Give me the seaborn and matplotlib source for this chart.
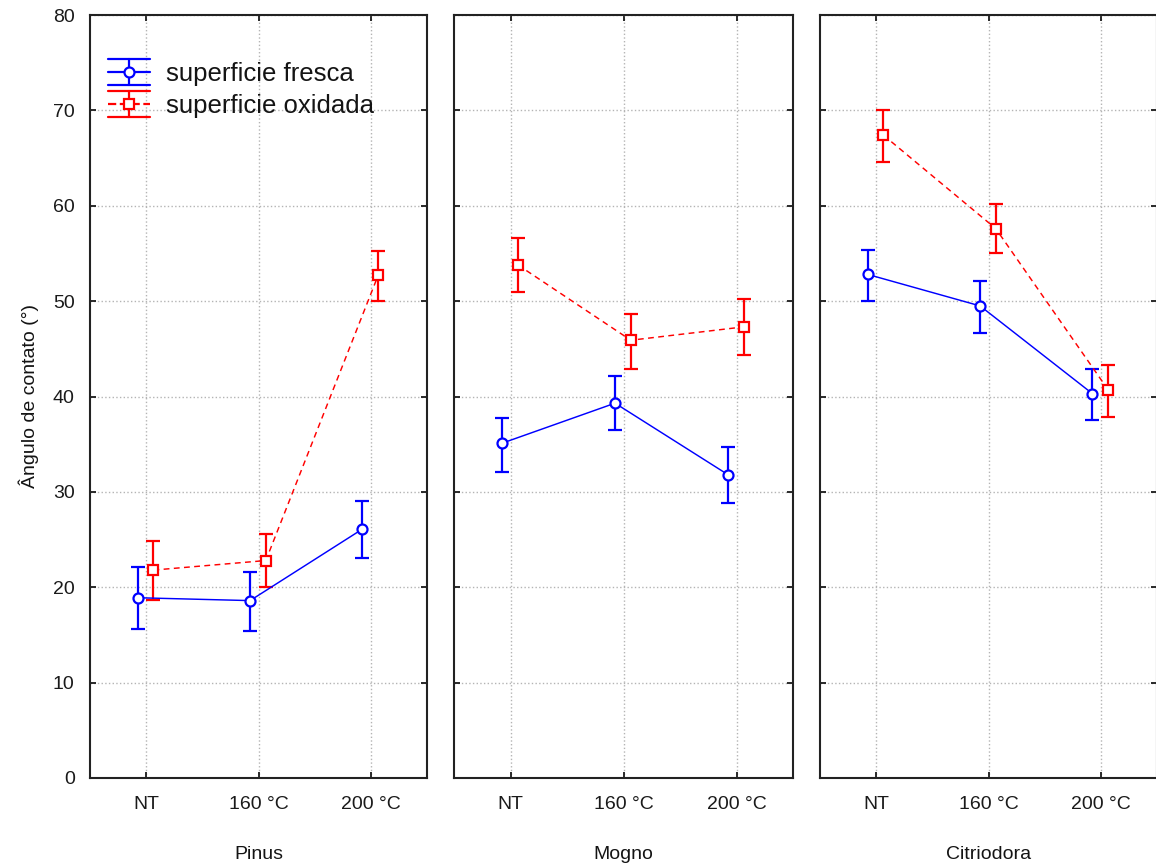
import numpy as np
import pandas as pd
import matplotlib
matplotlib.use("Agg")
import matplotlib.pyplot as plt
import seaborn as sns
from matplotlib.legend_handler import HandlerBase
from matplotlib.lines import Line2D

# ---------------- data ----------------
species = ["Pinus", "Mogno", "Citriodora"]
treatments = ["NT", "160 °C", "200 °C"]
series = ["superficie fresca", "superficie oxidada"]

# superficie fresca : mean, lower and upper limit, per species (NT, 160, 200)
fresca_mean = {"Pinus": [18.9, 18.6, 26.1], "Mogno": [35.1, 39.3, 31.8], "Citriodora": [52.8, 49.5, 40.3]}
fresca_low = {"Pinus": [15.6, 15.4, 23.1], "Mogno": [32.1, 36.5, 28.8], "Citriodora": [50.0, 46.7, 37.5]}
fresca_high = {"Pinus": [22.1, 21.6, 29.0], "Mogno": [37.7, 42.1, 34.7], "Citriodora": [55.4, 52.1, 42.9]}

# superficie oxidada
oxidada_mean = {"Pinus": [21.8, 22.8, 52.7], "Mogno": [53.8, 45.9, 47.3], "Citriodora": [67.4, 57.6, 40.7]}
oxidada_low = {"Pinus": [18.7, 20.0, 50.0], "Mogno": [51.0, 42.9, 44.3], "Citriodora": [64.6, 55.0, 37.9]}
oxidada_high = {"Pinus": [24.8, 25.6, 55.3], "Mogno": [56.6, 48.7, 50.2], "Citriodora": [70.0, 60.2, 43.3]}

y_ticks = [0, 10, 20, 30, 40, 50, 60, 70, 80]

# ---------------- styling ----------------
sns.set_theme(style="ticks")
plt.rcParams["font.family"] = ["Liberation Sans", "DejaVu Sans"]
plt.rcParams["text.color"] = "#141414"
plt.rcParams["axes.labelcolor"] = "#141414"
plt.rcParams["xtick.color"] = "#1a1a1a"
plt.rcParams["ytick.color"] = "#1a1a1a"

colors = {"superficie fresca": "#0000ff", "superficie oxidada": "#ff0000"}
markers = {"superficie fresca": "o", "superficie oxidada": "s"}
dashes = {"superficie fresca": "", "superficie oxidada": (4, 3)}
msizes = {"superficie fresca": 7.2, "superficie oxidada": 7.8}
dodge = {"superficie fresca": -0.075, "superficie oxidada": 0.065}

rows = []
for sp in species:
    for ser, m, lo, hi in [
        ("superficie fresca", fresca_mean, fresca_low, fresca_high),
        ("superficie oxidada", oxidada_mean, oxidada_low, oxidada_high),
    ]:
        for j, tr in enumerate(treatments):
            rows.append(dict(species=sp, serie=ser, treatment=tr, idx=j,
                             mean=m[sp][j], low=lo[sp][j], high=hi[sp][j]))
df = pd.DataFrame(rows)
df["pos"] = df["idx"] + df["serie"].map(dodge)

W, H = 1156, 864
fig = plt.figure(figsize=(W / 100, H / 100), dpi=100)
bottom = (H - 778) / H
height = (778 - 15) / H
lefts = [90, 454, 820]
widths = [337, 339, 337]

axes = []
for i, sp in enumerate(species):
    ax = fig.add_axes([lefts[i] / W, bottom, widths[i] / W, height])
    axes.append(ax)
    sub = df[df["species"] == sp]

    # error bars
    for ser in series:
        s = sub[sub["serie"] == ser]
        ax.errorbar(s["pos"], s["mean"],
                    yerr=[s["mean"] - s["low"], s["high"] - s["mean"]],
                    fmt="none", ecolor=colors[ser], elinewidth=1.6,
                    capsize=5, capthick=1.6, zorder=2)

    # lines + markers through seaborn
    n_before = len(ax.lines)
    sns.lineplot(data=sub, x="pos", y="mean", hue="serie", style="serie",
                 hue_order=series, style_order=series,
                 palette=colors, markers=markers, dashes=dashes,
                 linewidth=1.05, legend=False, ax=ax, sort=False,
                 estimator=None, errorbar=None)
    for ln in ax.lines[n_before:]:
        c = ln.get_color()
        ln.set_markerfacecolor("white")
        ln.set_markeredgecolor(c)
        ln.set_markeredgewidth(1.6)
        ln.set_zorder(3)
    for ln, ser in zip(ax.lines[n_before:], series):
        ln.set_markersize(msizes[ser])

    ax.set_xlim(-0.5, 2.5)
    ax.set_ylim(0, 80)
    ax.set_xticks(range(len(treatments)))
    ax.set_xticklabels(treatments, fontsize=14)
    ax.set_yticks(y_ticks)
    ax.grid(True, linestyle=":", color="#b4b4b4", linewidth=1.0, zorder=0)
    ax.set_axisbelow(True)
    ax.tick_params(direction="in", length=4.5, width=1.3, top=True, right=True,
                   bottom=True, left=True)
    ax.tick_params(axis="x", pad=13)
    ax.tick_params(axis="y", pad=11, labelsize=14)
    for sp_name, spine in ax.spines.items():
        spine.set_visible(True)
        spine.set_linewidth(1.5)
        spine.set_color("#222222")
    ax.set_xlabel(sp, fontsize=14, labelpad=24)
    if i == 0:
        ax.set_ylabel("Ângulo de contato (°)", fontsize=14, labelpad=10)
    else:
        ax.set_ylabel("")
        ax.set_yticklabels([])


# ---------------- legend with error-bar glyphs ----------------
class HandlerEB(HandlerBase):
    def create_artists(self, legend, orig, xdescent, ydescent, width, height,
                       fontsize, trans):
        c = orig.get_color()
        cy = height / 2 - ydescent
        x0, x1 = -xdescent, -xdescent + width
        xm = (x0 + x1) / 2
        d = 9.4
        arts = [
            Line2D([x0, x1], [cy + d, cy + d], color=c, lw=1.6),
            Line2D([x0, x1], [cy - d, cy - d], color=c, lw=1.6),
            Line2D([xm, xm], [cy - d, cy + d], color=c, lw=1.6),
            Line2D([x0, x1], [cy, cy], color=c, lw=1.6,
                   linestyle=orig.get_linestyle()),
            Line2D([xm], [cy], marker=orig.get_marker(), markersize=orig.get_markersize(),
                   markerfacecolor="white", markeredgecolor=c, markeredgewidth=1.6,
                   linestyle="none"),
        ]
        for a in arts:
            a.set_transform(trans)
        return arts


handles = [
    Line2D([], [], color=colors["superficie fresca"], marker="o", markersize=7.2,
           linestyle="-"),
    Line2D([], [], color=colors["superficie oxidada"], marker="s", markersize=7.8,
           linestyle=(0, (2.5, 2.5))),
]
axes[0].legend(handles, series, loc="upper left",
               bbox_to_anchor=(18 / 337, 1 - 47 / 763),
               frameon=False, fontsize=18.5, handlelength=1.62, handletextpad=0.62,
               labelspacing=0.3, borderpad=0, borderaxespad=0,
               handler_map={Line2D: HandlerEB()})

fig.savefig("out.png", dpi=100)
